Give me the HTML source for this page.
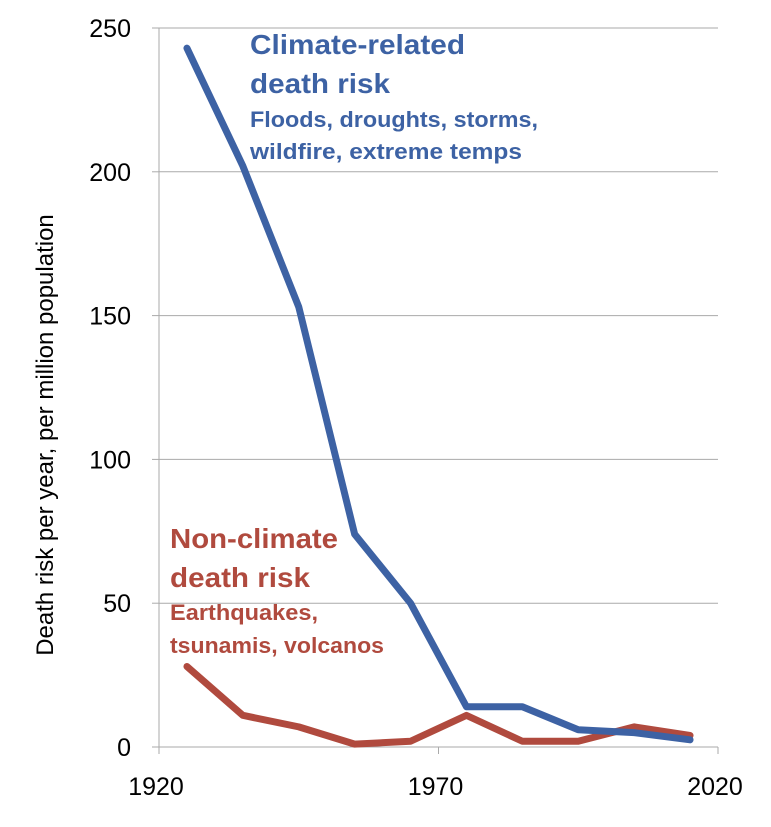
<!DOCTYPE html>
<html><head><meta charset="utf-8"><style>
body{margin:0;background:#fff;}
svg text{font-family:"Liberation Sans",sans-serif;}
</style></head><body>
<svg width="771" height="822" xmlns="http://www.w3.org/2000/svg">
<g id="grid"></g>
<g id="axes"></g>
<g id="series"></g>
<text transform="translate(53,435) rotate(-90)" text-anchor="middle" font-size="24" fill="#000">Death risk per year, per million population</text>
<g fill="#3d62a4" font-weight="bold">
<text x="250" y="54" font-size="28" textLength="215" lengthAdjust="spacingAndGlyphs">Climate-related</text>
<text x="250" y="93" font-size="28" textLength="140" lengthAdjust="spacingAndGlyphs">death risk</text>
<text x="250" y="127" font-size="22" textLength="288" lengthAdjust="spacingAndGlyphs">Floods, droughts, storms,</text>
<text x="250" y="159" font-size="22" textLength="272" lengthAdjust="spacingAndGlyphs">wildfire, extreme temps</text>
</g>
<g fill="#b04a3e" font-weight="bold">
<text x="170" y="548" font-size="28" textLength="168" lengthAdjust="spacingAndGlyphs">Non-climate</text>
<text x="170" y="587" font-size="28" textLength="140" lengthAdjust="spacingAndGlyphs">death risk</text>
<text x="170" y="620" font-size="22" textLength="148" lengthAdjust="spacingAndGlyphs">Earthquakes,</text>
<text x="170" y="653" font-size="22" textLength="214" lengthAdjust="spacingAndGlyphs">tsunamis, volcanos</text>
</g>
</svg>
<script>
const years=[1925,1935,1945,1955,1965,1975,1985,1995,2005,2015];
const climate=[243,202,153,74,50,14,14,6,5,2.5];
const nonClimate=[28,11,7,1,2,11,2,2,7,4];
const yTicks=[0,50,100,150,200,250];
const xTicks=[1920,1970,2020];
const NS="http://www.w3.org/2000/svg";
const x=v=>159+(v-1920)*5.59;
const y=v=>747-v*2.876;
function mk(tag,attrs,parent){const e=document.createElementNS(NS,tag);for(const k in attrs)e.setAttribute(k,attrs[k]);document.getElementById(parent).appendChild(e);return e;}
yTicks.forEach(t=>{
 if(t>0){const g=mk('line',{x1:159,x2:718,y1:y(t),y2:y(t),stroke:'#aaa','stroke-width':1},'grid');
 
 }
 const l=mk('text',{x:131,y:y(t)+9,'text-anchor':'end','font-size':25,fill:'#000'},'axes');l.textContent=t;
 
 
 mk('line',{x1:152,x2:159,y1:y(t),y2:y(t),stroke:'#aaa'},'axes');
});
const ax=mk('line',{x1:159,x2:159,y1:y(250),y2:y(0),stroke:'#aaa'},'axes');


const bx=mk('line',{x1:152,x2:718,y1:y(0),y2:y(0),stroke:'#aaa'},'axes');


xTicks.forEach(t=>{
 mk('line',{x1:x(t),x2:x(t),y1:y(0),y2:y(0)+7,stroke:'#aaa'},'axes');
 const l=mk('text',{x:x(t)-3,y:795,'text-anchor':'middle','font-size':25,fill:'#000'},'axes');l.textContent=t;
 
 
});
function line(vals,color,name){
 const p=mk('polyline',{points:years.map((yr,i)=>x(yr)+','+y(vals[i])).join(' '),fill:'none',stroke:color,'stroke-width':7,'stroke-linejoin':'round','stroke-linecap':'round'},'series');
 
 
}
line(nonClimate,'#b04a3e','non-climate-line');
line(climate,'#3d62a4','climate-line');
</script>
</body></html>
